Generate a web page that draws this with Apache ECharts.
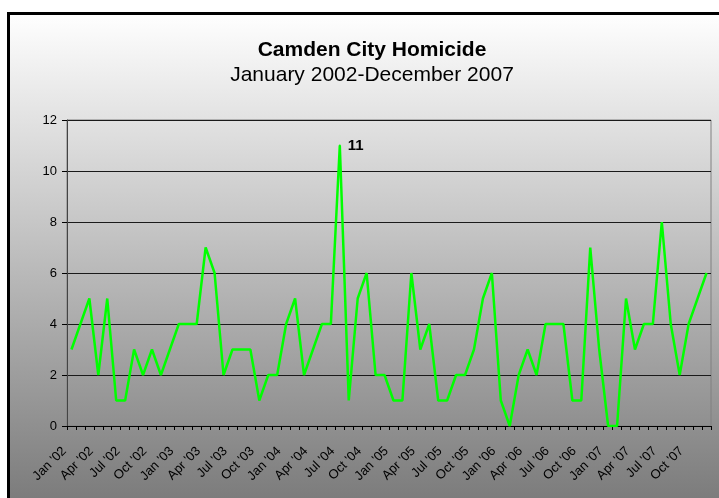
<!DOCTYPE html>
<html>
<head>
<meta charset="utf-8">
<script src="https://cdn.jsdelivr.net/npm/echarts@6/dist/echarts.min.js"></script>
<style>
html,body{margin:0;padding:0;background:#fff;}
#c{width:719px;height:498px;}
</style>
</head>
<body>
<div id="c"></div>
<script>
const monthNames = ['Jan','Feb','Mar','Apr','May','Jun','Jul','Aug','Sep','Oct','Nov','Dec'];
const years = ['02','03','04','05','06','07'];
const categories = [];
years.forEach(y => monthNames.forEach(m => categories.push(m + " '" + y)));

const homicides = [
  3,4,5,2,5,1,1,3,2,3,2,3,
  4,4,4,7,6,2,3,3,3,1,2,2,
  4,5,2,3,4,4,11,1,5,6,2,2,
  1,1,6,3,4,1,1,2,2,3,5,6,
  1,0,2,3,2,4,4,4,1,1,7,3,
  0,0,5,3,4,4,8,4,2,4,5,6
];
const yTicks = {min: 0, max: 12, interval: 2};
const labeledIndex = 30;

const FONT = 'Liberation Sans, Arial, sans-serif';
const chart = echarts.init(document.getElementById('c'), null, {renderer: 'canvas'});
const seriesData = homicides.map((v, i) => i === labeledIndex ? {
  value: v,
  symbol: 'circle',
  symbolSize: 2,
  itemStyle: {color: '#00ff00'},
  label: {show: true, position: 'right', distance: 7, formatter: '{c}', fontWeight: 'bold', fontSize: 15, color: '#000', fontFamily: FONT}
} : v);

chart.setOption({
  backgroundColor: '#ffffff',
  animation: false,
  graphic: [{
    type: 'rect',
    z: -10,
    silent: true,
    shape: {x: 8.5, y: 13.5, width: 740, height: 520},
    style: {
      fill: new echarts.graphic.LinearGradient(0, 0, 0, 1, [
        {offset: 0, color: '#ffffff'},
        {offset: 0.93, color: '#7c7c7c'},
        {offset: 1, color: '#777777'}
      ]),
      stroke: '#000',
      lineWidth: 3
    }
  }],
  title: {
    text: 'Camden City Homicide',
    subtext: 'January 2002-December 2007',
    left: 367,
    textAlign: 'center',
    top: 35,
    itemGap: 4,
    textStyle: {fontFamily: FONT, fontWeight: 'bold', fontSize: 21, color: '#000'},
    subtextStyle: {fontFamily: FONT, fontSize: 21, color: '#000'}
  },
  grid: {left: 67, right: 8, top: 120, bottom: 72, show: true, borderColor: '#808080', borderWidth: 1, backgroundColor: 'transparent'},
  xAxis: {
    type: 'category',
    data: categories,
    boundaryGap: true,
    axisLine: {show: true, lineStyle: {color: '#000', width: 1}},
    axisTick: {show: true, interval: 0, length: 4, lineStyle: {color: '#000'}},
    axisLabel: {interval: 2, rotate: 45, fontSize: 13, color: '#000', margin: 16, padding: [0, 10, 0, 0], fontFamily: FONT},
    splitLine: {show: false}
  },
  yAxis: {
    type: 'value',
    min: yTicks.min, max: yTicks.max, interval: yTicks.interval,
    axisLine: {show: true, lineStyle: {color: '#444', width: 1}},
    axisTick: {show: true, length: 5, lineStyle: {color: '#000'}},
    axisLabel: {fontSize: 13, color: '#000', margin: 10, fontFamily: FONT},
    splitLine: {show: true, lineStyle: {color: '#1a1a1a', width: 1}}
  },
  series: [{
    type: 'line',
    data: seriesData,
    symbol: 'none',
    showSymbol: true,
    lineStyle: {color: '#00ff00', width: 2.5},
    itemStyle: {color: '#00ff00'},
    label: {show: false}
  }]
});
</script>
</body>
</html>
